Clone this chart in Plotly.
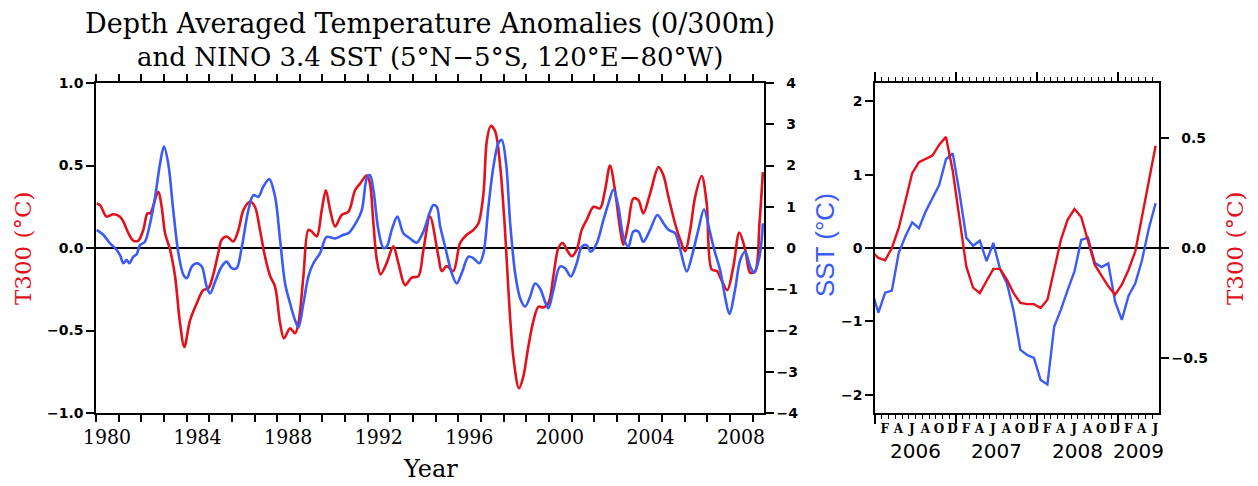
import plotly.graph_objects as go

# ---------------- Left panel: smoothed series 1980-2009 ----------------
t300_year = [1980.03, 1980.18, 1980.47, 1980.77, 1981.06, 1981.21, 1981.43, 1981.65, 1981.87, 1982.09,
             1982.27, 1982.39, 1982.75, 1982.90, 1983.05, 1983.27, 1983.49, 1983.71, 1983.90, 1984.15,
             1984.45, 1984.74, 1984.96, 1985.18, 1985.40, 1985.55, 1985.77, 1986.06, 1986.29, 1986.51,
             1986.80, 1987.02, 1987.24, 1987.46, 1987.69, 1987.91, 1988.13, 1988.30, 1988.57, 1988.79,
             1988.94, 1989.16, 1989.38, 1989.53, 1989.75, 1989.97, 1990.15, 1990.34, 1990.56, 1990.85,
             1991.15, 1991.44, 1991.66, 1991.96, 1992.10, 1992.25, 1992.40, 1992.57, 1992.84, 1993.13,
             1993.35, 1993.65, 1993.94, 1994.24, 1994.45, 1994.75, 1995.12, 1995.27, 1995.49, 1995.78,
             1996.08, 1996.37, 1996.67, 1996.89, 1997.11, 1997.26, 1997.43, 1997.62, 1997.84, 1998.07,
             1998.21, 1998.43, 1998.68, 1998.87, 1999.09, 1999.32, 1999.54, 1999.76, 1999.98, 2000.20,
             2000.42, 2000.61, 2000.79, 2001.01, 2001.23, 2001.45, 2001.67, 2001.97, 2002.26, 2002.48,
             2002.70, 2002.92, 2003.15, 2003.29, 2003.51, 2003.73, 2003.95, 2004.17, 2004.47, 2004.84,
             2005.06, 2005.28, 2005.57, 2005.80, 2006.02, 2006.24, 2006.46, 2006.75, 2006.97, 2007.19,
             2007.42, 2007.64, 2007.88, 2008.15, 2008.41, 2008.67, 2008.89, 2009.11, 2009.30, 2009.45]
t300_val = [0.27, 0.26, 0.19, 0.205, 0.19, 0.16, 0.09, 0.045, 0.045, 0.11,
            0.21, 0.21, 0.34, 0.25, 0.09, -0.01, -0.17, -0.456, -0.60, -0.44,
            -0.335, -0.255, -0.245, -0.16, -0.03, 0.05, 0.07, 0.04, 0.11, 0.23,
            0.28, 0.25, 0.11, -0.05, -0.17, -0.235, -0.456, -0.547, -0.487, -0.517,
            -0.456, -0.17, 0.11, 0.10, 0.07, 0.23, 0.35, 0.23, 0.13, 0.20,
            0.22, 0.35, 0.39, 0.44, 0.39, 0.15, -0.07, -0.16, -0.09, 0.01,
            -0.09, -0.225, -0.18, -0.17, -0.02, 0.19, -0.05, -0.14, -0.11, -0.14,
            0.03, 0.08, 0.11, 0.15, 0.33, 0.65, 0.74, 0.71, 0.51, 0.09,
            -0.25, -0.66, -0.85, -0.78, -0.60, -0.44, -0.356, -0.36, -0.335, -0.17,
            0.0, 0.03, -0.01, -0.05, -0.01, 0.11, 0.17, 0.25, 0.24, 0.35,
            0.50, 0.35, 0.11, 0.02, 0.15, 0.30, 0.29, 0.21, 0.33, 0.49,
            0.44, 0.31, 0.15, 0.05, -0.02, 0.11, 0.31, 0.436, 0.27, -0.13,
            -0.14, -0.20, -0.255, -0.11, 0.093, -0.01, -0.15, -0.14, 0.15, 0.46]

sst_year = [1980.03, 1980.32, 1980.62, 1980.84, 1981.06, 1981.21, 1981.35, 1981.47, 1981.65, 1981.80,
            1981.94, 1982.16, 1982.39, 1982.61, 1982.83, 1983.00, 1983.19, 1983.41, 1983.64, 1983.86,
            1984.01, 1984.23, 1984.45, 1984.67, 1984.89, 1985.04, 1985.26, 1985.55, 1985.77, 1985.99,
            1986.21, 1986.44, 1986.73, 1986.95, 1987.17, 1987.39, 1987.65, 1987.91, 1988.13, 1988.35,
            1988.57, 1988.79, 1988.94, 1989.16, 1989.38, 1989.60, 1989.89, 1990.19, 1990.56, 1990.93,
            1991.15, 1991.51, 1991.74, 1991.96, 1992.10, 1992.25, 1992.47, 1992.69, 1992.84, 1993.06,
            1993.31, 1993.57, 1993.87, 1994.16, 1994.46, 1994.75, 1994.90, 1995.05, 1995.20, 1995.42,
            1995.71, 1995.93, 1996.15, 1996.45, 1996.67, 1996.93, 1997.11, 1997.33, 1997.55, 1997.77,
            1997.92, 1998.11, 1998.29, 1998.51, 1998.73, 1998.95, 1999.17, 1999.39, 1999.61, 1999.83,
            1999.98, 2000.20, 2000.49, 2000.71, 2000.97, 2001.23, 2001.45, 2001.67, 2001.85, 2002.11,
            2002.41, 2002.63, 2002.85, 2003.07, 2003.29, 2003.51, 2003.73, 2003.95, 2004.17, 2004.47,
            2004.79, 2005.06, 2005.28, 2005.57, 2005.80, 2006.09, 2006.31, 2006.60, 2006.85, 2007.09,
            2007.30, 2007.56, 2007.78, 2007.97, 2008.22, 2008.45, 2008.67, 2008.89, 2009.06, 2009.30,
            2009.45]
sst_val = [0.44, 0.32, 0.11, 0.0, -0.17, -0.37, -0.29, -0.37, -0.21, -0.15,
           0.07, 0.15, 0.60, 1.24, 2.05, 2.46, 2.05, 0.92, -0.13, -0.65,
           -0.73, -0.45, -0.37, -0.45, -0.94, -1.10, -0.82, -0.45, -0.33, -0.49,
           -0.49, 0.03, 0.92, 1.28, 1.24, 1.49, 1.67, 1.24, 0.19, -0.86,
           -1.34, -1.75, -1.92, -1.34, -0.69, -0.37, -0.13, 0.27, 0.23, 0.32,
           0.36, 0.64, 0.92, 1.69, 1.77, 1.41, 0.44, 0.0, 0.03, 0.44,
           0.76, 0.36, 0.23, 0.13, 0.40, 0.88, 1.04, 1.0, 0.52, 0.03,
           -0.61, -0.86, -0.61, -0.21, -0.25, -0.37, -0.13, 1.0, 1.97, 2.54,
           2.62, 2.05, 0.60, -0.61, -1.22, -1.42, -1.18, -0.86, -0.98, -1.30,
           -1.46, -1.02, -0.45, -0.49, -0.69, -0.37, 0.03, 0.07, -0.09, 0.11,
           0.68, 1.08, 1.42, 1.0, 0.27, 0.03, 0.40, 0.40, 0.15, 0.44,
           0.80, 0.60, 0.44, 0.36, -0.04, -0.57, -0.21, 0.44, 0.94, 0.44,
           -0.04, -0.53, -1.18, -1.60, -1.02, -0.29, -0.09, -0.45, -0.60, -0.21,
           0.60]

# ---------------- Right panel: monthly Dec 2005 .. Jun 2009 ----------------
recent_first_year = 2005
recent_first_month = 12
recent_sst = [-0.58, -0.88, -0.61, -0.58, -0.07, 0.16, 0.35, 0.27, 0.50, 0.68,
              0.86, 1.21, 1.29, 0.75, 0.14, 0.03, 0.10, -0.18, 0.07, -0.29,
              -0.48, -0.86, -1.39, -1.46, -1.50, -1.80, -1.86, -1.07, -0.84, -0.57,
              -0.32, 0.11, 0.14, -0.20, -0.26, -0.21, -0.73, -0.98, -0.65, -0.48,
              -0.16, 0.27, 0.61]
recent_t300 = [-0.015, -0.045, -0.056, 0.0, 0.09, 0.22, 0.34, 0.39, 0.405, 0.42,
               0.47, 0.505, 0.35, 0.13, -0.084, -0.18, -0.205, -0.15, -0.095, -0.095,
               -0.144, -0.205, -0.25, -0.255, -0.255, -0.273, -0.235, -0.099, 0.038, 0.129,
               0.177, 0.141, 0.038, -0.076, -0.126, -0.174, -0.212, -0.167, -0.099, -0.015,
               0.144, 0.30, 0.465]

left_year_labels = ["1980", "1984", "1988", "1992", "1996", "2000", "2004", "2008"]
t300_ticks = [-1.0, -0.5, 0.0, 0.5, 1.0]
sst_ticks = [-4, -3, -2, -1, 0, 1, 2, 3, 4]
month_letters = {2: "F", 4: "A", 6: "J", 8: "A", 10: "O", 12: "D"}
right_years = ["2006", "2007", "2008", "2009"]
right_year_centres = [2006.5, 2007.5, 2008.5, 2009.25]
sst_ticks_r = [-2, -1, 0, 1, 2]
t300_ticks_r = [-0.5, 0.0, 0.5]

RED = "#e2111b"
BLUE = "#3b5bf6"
SERIF = "DejaVu Serif, serif"
SERIF_C = "DejaVu Serif Condensed, DejaVu Serif, serif"
SANS = "DejaVu Sans, sans-serif"

# the page body adds an 8 px margin; the figure fills the rest of the 1258x486 window
OFF = 8
W, H = 1258 - OFF, 486 - OFF

def fx(p):
    return (p - OFF) / W

def fy(p):
    return 1 - (p - OFF) / H

def signed(v, fmt, pad_positive):
    s = format(abs(v), fmt)
    if v < 0:
        return "\u2212" + s
    return ("\u2007" + s) if pad_positive else s

# mid-month positions (decimal years) of the monthly series
recent_x = []
for k in range(len(recent_sst)):
    mm = recent_first_month - 1 + k
    yy = recent_first_year + mm // 12
    mo = mm % 12 + 1
    recent_x.append(yy + (mo - 0.5) / 12.0)

fig = go.Figure()
fig.add_trace(go.Scatter(x=t300_year, y=t300_val, mode="lines", xaxis="x", yaxis="y",
                         line=dict(color=RED, width=2.6, shape="spline", smoothing=0.9),
                         showlegend=False, hoverinfo="skip"))
fig.add_trace(go.Scatter(x=sst_year, y=sst_val, mode="lines", xaxis="x", yaxis="y2",
                         line=dict(color=BLUE, width=2.6, shape="spline", smoothing=0.9),
                         showlegend=False, hoverinfo="skip"))
fig.add_trace(go.Scatter(x=recent_x, y=recent_t300, mode="lines", xaxis="x3", yaxis="y4",
                         line=dict(color=RED, width=2.4), showlegend=False, hoverinfo="skip"))
fig.add_trace(go.Scatter(x=recent_x, y=recent_sst, mode="lines", xaxis="x3", yaxis="y3",
                         line=dict(color=BLUE, width=2.4), showlegend=False, hoverinfo="skip"))
# invisible carrier so the overlaid year-tick axis of the right panel is drawn
fig.add_trace(go.Scatter(x=recent_x, y=recent_sst, mode="lines", xaxis="x4", yaxis="y3",
                         line=dict(color="rgba(0,0,0,0)", width=0), showlegend=False,
                         hoverinfo="skip"))

LDOM = [fx(96), fx(764)]
RDOM = [fx(875), fx(1159)]
YDOM = [fy(413), fy(83)]
tickfont = dict(family=SANS, size=14, color="black", weight="bold")
axcommon = dict(showgrid=False, showline=True, linecolor="black", linewidth=1.5,
                tickcolor="black", tickwidth=1.5, automargin=False)

# left panel: ticks at every Jan 1, labels every 4 years centred in the year
year_ticks = list(range(1980, 2010))
year_text = [str(y) if str(y) in left_year_labels else "" for y in year_ticks]
px_per_year = (LDOM[1] - LDOM[0]) * W / 29.5

# right panel: monthly ticks, letters centred in Feb/Apr/Jun/Aug/Oct/Dec
month_ticks, month_text = [], []
for k in range(0, 42):
    month_ticks.append(2006 + k / 12.0)
    month_text.append(month_letters.get(k % 12 + 1, ""))
px_per_month = (RDOM[1] - RDOM[0]) * W / 42.0

fig.update_layout(
    width=W, height=H, margin=dict(l=0, r=0, t=0, b=0, autoexpand=False),
    plot_bgcolor="white", paper_bgcolor="white",
    xaxis=dict(domain=LDOM, anchor="y", range=[1980, 2009.5], tickmode="array",
               tickvals=year_ticks, ticktext=year_text, ticks="outside", ticklen=7,
               mirror="ticks", ticklabelshift=round(px_per_year / 2), ticklabelstandoff=-3,
               tickfont=dict(family=SERIF_C, size=21, color="black"),
               zeroline=False, **axcommon),
    yaxis=dict(domain=YDOM, anchor="x", range=[-1, 1], tickmode="array", tickvals=t300_ticks,
               ticktext=[signed(v, ".1f", False) for v in t300_ticks], ticks="outside", ticklen=8,
               tickfont=tickfont, zeroline=True, zerolinecolor="black", zerolinewidth=1.5,
               **axcommon),
    yaxis2=dict(overlaying="y", side="right", anchor="x", range=[-4, 4], tickmode="array",
                tickvals=sst_ticks, ticktext=[signed(v, "d", True) for v in sst_ticks],
                ticks="outside", ticklen=8, tickfont=tickfont, zeroline=False, **axcommon),
    xaxis3=dict(domain=RDOM, anchor="y3", range=[2006, 2009.5], tickmode="array",
                tickvals=month_ticks, ticktext=month_text, ticks="outside", ticklen=4,
                tickwidth=1.2, mirror="ticks", ticklabelshift=round(px_per_month / 2),
                ticklabelstandoff=0,
                tickfont=dict(family=SERIF, size=12, color="black", weight="bold"),
                zeroline=False, showgrid=False, showline=True, linecolor="black",
                linewidth=1.5, tickcolor="black", automargin=False),
    xaxis4=dict(overlaying="x3", matches="x3", anchor="y3", side="bottom", range=[2006, 2009.5],
                tickmode="array", tickvals=[2006, 2007, 2008, 2009], ticks="outside", ticklen=9,
                mirror="ticks", showticklabels=False, zeroline=False, **axcommon),
    yaxis3=dict(domain=YDOM, anchor="x3", range=[-2.25, 2.25], tickmode="array",
                tickvals=sst_ticks_r, ticktext=[signed(v, "d", False) for v in sst_ticks_r],
                ticks="outside", ticklen=8, tickfont=tickfont,
                zeroline=True, zerolinecolor="black", zerolinewidth=1.5, **axcommon),
    yaxis4=dict(overlaying="y3", side="right", anchor="x3", range=[-0.75, 0.75], tickmode="array",
                tickvals=t300_ticks_r, ticktext=[signed(v, ".1f", True) for v in t300_ticks_r],
                ticks="outside", ticklen=8, tickfont=tickfont, zeroline=False, **axcommon),
)

def ann(text, xp, yp, size, color="black", angle=0, family=SERIF):
    fig.add_annotation(text=text, x=fx(xp), y=fy(yp), xref="paper", yref="paper",
                       showarrow=False, xanchor="center", yanchor="middle", textangle=angle,
                       font=dict(family=family, size=size, color=color))

ann("Depth Averaged Temperature Anomalies (0/300m)", 430, 24, 27)
ann("and NINO 3.4 SST (5\u00b0N\u22125\u00b0S, 120\u00b0E\u221280\u00b0W)", 430, 57, 26)
ann("Year", 430, 469, 24)
ann("T300 (\u00b0C)", 23, 248, 23, RED, -90)
ann("SST (\u00b0C)", 825, 245, 26, BLUE, -90, "Liberation Sans, Arial, sans-serif")
ann("T300 (\u00b0C)", 1235, 248, 23, RED, -90)

for yr, xc in zip(right_years, right_year_centres):
    fig.add_annotation(text=yr, x=xc, y=fy(451), xref="x3", yref="paper", showarrow=False,
                       xanchor="center", yanchor="middle",
                       font=dict(family=SANS, size=20, color="black"))

fig.write_html("out.html")
